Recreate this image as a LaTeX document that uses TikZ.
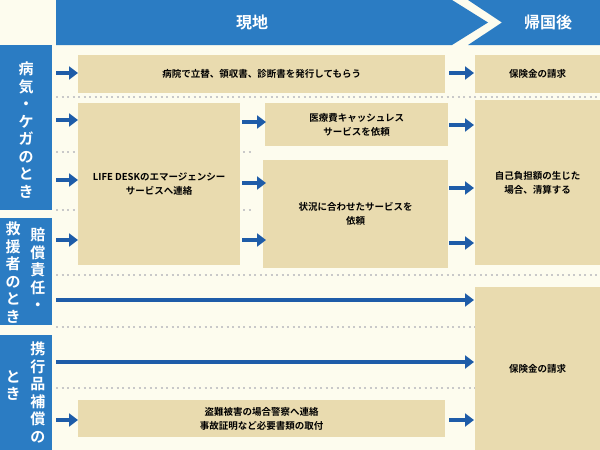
\documentclass[tikz,border=0pt]{standalone}
\usepackage{fontspec}
\setmainfont{Noto Sans CJK JP}[BoldFont={* Bold}]
\usetikzlibrary{arrows.meta}
\definecolor{bg}{HTML}{FDFCEE}
\definecolor{hb}{HTML}{2B7CC3}
\definecolor{ab}{HTML}{1E5CA8}
\definecolor{tan}{HTML}{E9DBAF}
\definecolor{dotc}{HTML}{C9C9C9}
\tikzset{
 box/.style={fill=tan,draw=none,anchor=north west,inner sep=0pt,font=\bfseries\fontsize{9.5}{14}\selectfont,align=center},
 arr/.style={draw=ab,line width=3.5pt,-{Triangle[length=9pt,width=13pt]}},
 dl/.style={draw=dotc,line width=2pt,dash pattern=on 2pt off 3.5pt},
 vlab/.style={text=white,font=\bfseries\fontsize{15}{17.5}\selectfont,align=center,inner sep=0pt,anchor=north},
}
\begin{document}
\begin{tikzpicture}[x=1pt,y=-1pt]
\fill[bg] (0,0) rectangle (600,450);
\useasboundingbox (0,0) rectangle (600,450);
% header
\fill[hb] (56,0) -- (452,0) -- (488,22.5) -- (452,45) -- (56,45) -- cycle;
\fill[hb] (468,0) -- (600,0) -- (600,45) -- (468,45) -- (502,22.5) -- cycle;
\node[text=white,font=\bfseries\fontsize{16}{19}\selectfont] (h1) at (252,22) {現地};
\node[text=white,font=\bfseries\fontsize{16}{19}\selectfont] (h2) at (548,22) {帰国後};
% left labels
\fill[hb] (0,45) rectangle (52,210);
\fill[hb] (0,218) rectangle (52,325);
\fill[hb] (0,335) rectangle (52,450);
\node[vlab] (l1) at (26,62) {病\\気\\・\\ケ\\ガ\\の\\と\\き};
\node[vlab] (l2a) at (38,228) {賠\\償\\責\\任\\・};
\node[vlab] (l2b) at (13,222) {救\\援\\者\\の\\と\\き};
\node[vlab] (l3a) at (38,342) {携\\行\\品\\補\\償\\の};
\node[vlab] (l3b) at (13,370) {と\\き};
% dotted lines
\draw[dl] (56,97) -- (600,97);
\draw[dl] (56,152) -- (252,152);
\draw[dl] (56,210) -- (252,210);
\draw[dl] (56,275) -- (600,275);
\draw[dl] (56,327) -- (600,327);
\draw[dl] (56,388) -- (600,388);
% boxes
\node[box,minimum width=367pt,minimum height=38pt] (A) at (78,55) {病院で立替、領収書、診断書を発行してもらう};
\node[box,minimum width=125pt,minimum height=38pt] (B) at (475,55) {保険金の請求};
\node[box,minimum width=162pt,minimum height=162pt] (C) at (78,103) {LIFE DESKのエマージェンシー\\サービスへ連絡};
\node[box,minimum width=183pt,minimum height=43pt] (D) at (265,103) {医療費キャッシュレス\\サービスを依頼};
\node[box,minimum width=185pt,minimum height=108pt] (E) at (263,160) {状況に合わせたサービスを\\依頼};
\node[box,minimum width=125pt,minimum height=165pt] (F) at (475,100) {自己負担額の生じた\\場合、清算する};
\node[box,minimum width=125pt,minimum height=163pt] (G) at (475,287) {保険金の請求};
\node[box,minimum width=367pt,minimum height=37pt] (H) at (78,400) {盗難被害の場合警察へ連絡\\事故証明など必要書類の取付};
% arrows
\foreach \y/\n in {73/a,120/b,180/c,240/d,420/e}{
  \coordinate (s\n) at (56,\y); \coordinate (t\n) at (78,\y);
  \draw[arr] (s\n) -- (t\n);}
\foreach \y/\n in {122/a,183/b,240/c}{
  \coordinate (ms\n) at (242,\y); \coordinate (mt\n) at (266,\y);
  \draw[arr] (ms\n) -- (mt\n);}
\foreach \y/\n in {73/a,125/b,188/c,243/d,420/e}{
  \coordinate (rs\n) at (449,\y); \coordinate (rt\n) at (474,\y);
  \draw[arr] (rs\n) -- (rt\n);}
\coordinate (ls1) at (56,300); \coordinate (lt1) at (474,300);
\coordinate (ls2) at (56,362); \coordinate (lt2) at (474,362);
\draw[arr] (ls1) -- (lt1);
\draw[arr] (ls2) -- (lt2);
\end{tikzpicture}
\end{document}
